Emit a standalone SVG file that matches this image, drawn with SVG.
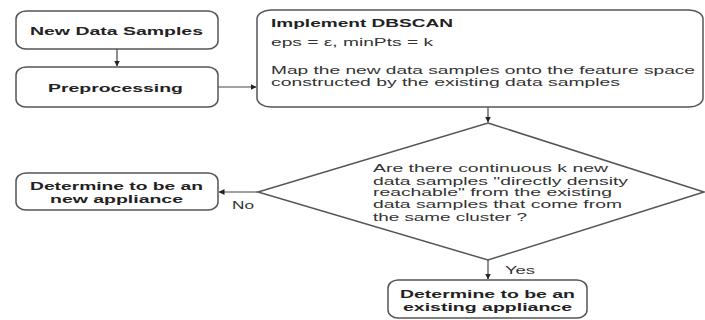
<svg xmlns="http://www.w3.org/2000/svg" width="705" height="320" viewBox="0 0 705 320">
<style>
.box{fill:#fff;stroke:#555;stroke-width:1.5}
.b{font-family:"Liberation Sans",Arial,sans-serif;font-weight:bold;font-size:11.5px;fill:#222}
.t{font-family:"Liberation Sans",Arial,sans-serif;font-size:10.5px;fill:#333}
.c{fill:none;stroke:#444;stroke-width:1.2}
</style>
<defs>
<marker id="a" viewBox="0 0 6 6" refX="5.5" refY="3" markerWidth="5" markerHeight="5" orient="auto">
<path d="M0,0 L6,3 L0,6 z" fill="#222"/>
</marker>
</defs>
<rect width="705" height="320" fill="#fff"/>
<g id="connectors">
<line class="c" x1="117" y1="49" x2="117" y2="66" marker-end="url(#a)"/>
<line class="c" x1="218" y1="87" x2="256" y2="87" marker-end="url(#a)"/>
<line class="c" x1="488" y1="107" x2="488" y2="122" marker-end="url(#a)"/>
<line class="c" x1="258" y1="192" x2="219" y2="192" marker-end="url(#a)"/>
<line class="c" x1="488" y1="260" x2="488" y2="279" marker-end="url(#a)"/>
<text class="t" x="232" y="209" textLength="22" lengthAdjust="spacingAndGlyphs">No</text>
<text class="t" x="505" y="274" textLength="30" lengthAdjust="spacingAndGlyphs">Yes</text>
</g>
<g id="new-data">
<rect class="box" x="16" y="11" width="202" height="38" rx="10" ry="8"/>
<text class="b" x="30" y="35" textLength="173" lengthAdjust="spacingAndGlyphs">New Data Samples</text>
</g>
<g id="preprocessing">
<rect class="box" x="16" y="67" width="202" height="40" rx="10" ry="8"/>
<text class="b" x="48" y="92" textLength="135" lengthAdjust="spacingAndGlyphs">Preprocessing</text>
</g>
<g id="dbscan">
<rect class="box" x="257" y="10" width="446" height="97" rx="14" ry="9"/>
<text class="b" x="271" y="27" textLength="182" lengthAdjust="spacingAndGlyphs">Implement DBSCAN</text>
<text class="t" x="271" y="46" textLength="162" lengthAdjust="spacingAndGlyphs">eps = ε, minPts = k</text>
<text class="t" x="271" y="74" textLength="424" lengthAdjust="spacingAndGlyphs">Map the new data samples onto the feature space</text>
<text class="t" x="271" y="86" textLength="349" lengthAdjust="spacingAndGlyphs">constructed by the existing data samples</text>
</g>
<g id="decision">
<polygon class="box" points="488,123 704,192 488,260 258,192"/>
<text class="t" x="373" y="172" textLength="235" lengthAdjust="spacingAndGlyphs">Are there continuous k new</text>
<text class="t" x="373" y="185" textLength="255" lengthAdjust="spacingAndGlyphs">data samples "directly density</text>
<text class="t" x="373" y="196" textLength="239" lengthAdjust="spacingAndGlyphs">reachable" from the existing</text>
<text class="t" x="373" y="208" textLength="249" lengthAdjust="spacingAndGlyphs">data samples that come from</text>
<text class="t" x="373" y="221" textLength="154" lengthAdjust="spacingAndGlyphs">the same cluster ?</text>
</g>
<g id="new-appliance">
<rect class="box" x="16" y="173" width="202" height="37" rx="10" ry="8"/>
<text class="b" x="30" y="190" textLength="173" lengthAdjust="spacingAndGlyphs">Determine to be an</text>
<text class="b" x="50" y="203" textLength="133" lengthAdjust="spacingAndGlyphs">new appliance</text>
</g>
<g id="existing-appliance">
<rect class="box" x="388" y="280" width="199" height="38" rx="10" ry="8"/>
<text class="b" x="400" y="298" textLength="175" lengthAdjust="spacingAndGlyphs">Determine to be an</text>
<text class="b" x="403" y="311" textLength="169" lengthAdjust="spacingAndGlyphs">existing appliance</text>
</g>
</svg>
